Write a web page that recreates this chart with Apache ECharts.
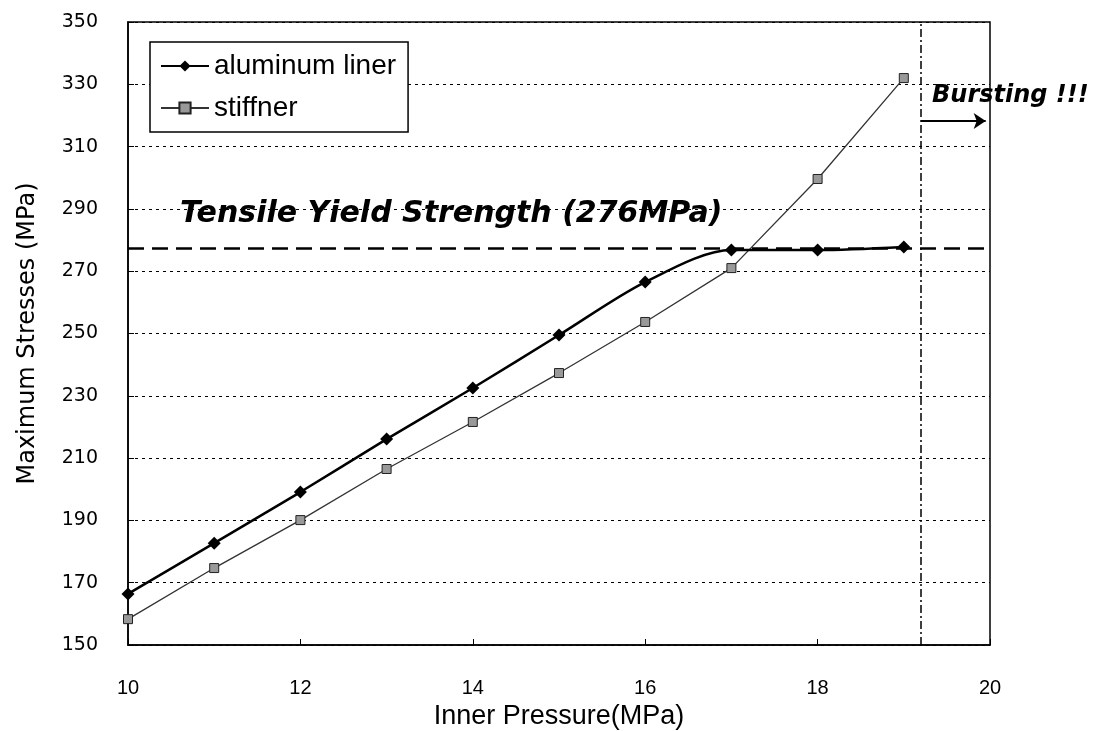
<!DOCTYPE html>
<html>
<head>
<meta charset="utf-8">
<script src="https://cdn.jsdelivr.net/npm/echarts@6/dist/echarts.min.js"></script>
<style>
html,body{margin:0;padding:0;background:#fff;}
#main{width:1099px;height:731px;}
</style>
</head>
<body>
<div id="main"></div>
<script>
// 数据
var pressure = [10, 11, 12, 13, 14, 15, 16, 17, 18, 19];
var linerStress = [166.4, 182.7, 199.1, 216.1, 232.5, 249.5, 266.5, 276.8, 276.8, 277.8];
var stiffStress = [158.3, 174.7, 190.1, 206.5, 221.6, 237.3, 253.7, 271.0, 299.6, 332.0];
var yieldLine = 277.5;
var burstAt = 19.2;

function pairs(xs, ys) {
	return xs.map(function (x, i) { return [x, ys[i]]; });
}

var font = 'Liberation Sans, Arial, sans-serif';
var wide = 'DejaVu Sans, Verdana, sans-serif';
var myChart = echarts.init(document.getElementById('main'));
var option = {
	animation: false,
	backgroundColor: '#fff',
	grid: { left: 128, right: 109, top: 22, bottom: 86, outerBoundsMode: 'none', containLabel: false, show: true, borderColor: '#000', borderWidth: 1.5 },
	xAxis: {
		type: 'value', min: 10, max: 20, interval: 2,
		name: 'Inner Pressure(MPa)', nameLocation: 'middle', nameGap: 56,
		nameTextStyle: { fontFamily: font, fontSize: 27, color: '#000' },
		axisLine: { lineStyle: { color: '#000', width: 1.5 } },
		axisTick: { inside: true, length: 6, lineStyle: { color: '#000' } },
		axisLabel: { fontFamily: font, fontSize: 20, color: '#000', margin: 33 },
		splitLine: { show: false }
	},
	yAxis: {
		type: 'value', min: 150, max: 350, interval: 20,
		name: 'Maximum Stresses (MPa)', nameLocation: 'middle', nameGap: 88,
		nameTextStyle: { fontFamily: wide, fontSize: 24, color: '#000' },
		axisLine: { lineStyle: { color: '#000', width: 1.5 } },
		axisTick: { inside: true, length: 6, lineStyle: { color: '#000' } },
		axisLabel: { fontFamily: wide, fontSize: 19, color: '#000', margin: 30 },
		splitLine: { show: true, lineStyle: { color: '#000', type: [3, 4], width: 1 } }
	},
	legend: {
		left: 150, top: 42, orient: 'vertical',
		padding: [10, 12, 10, 10], itemGap: 14,
		itemWidth: 48, itemHeight: 14,
		borderColor: '#000', borderWidth: 1.5, backgroundColor: '#fff',
		textStyle: { fontFamily: font, fontSize: 28, color: '#000' },
		data: ['aluminum liner', 'stiffner']
	},
	series: [
		{
			name: 'aluminum liner', type: 'line', smooth: 0.3,
			data: pairs(pressure, linerStress),
			symbol: 'diamond', symbolSize: 13,
			lineStyle: { color: '#000', width: 2.5 },
			itemStyle: { color: '#000' },
			z: 4,
			markLine: {
				silent: true, symbol: 'none', label: { show: false },
				data: [
					{ yAxis: yieldLine, lineStyle: { color: '#000', width: 2.5, type: [16, 8] } },
					{ xAxis: burstAt, lineStyle: { color: '#000', width: 1.5, type: [8, 3, 2, 3] } }
				]
			}
		},
		{
			name: 'stiffner', type: 'line',
			data: pairs(pressure, stiffStress),
			symbol: 'rect', symbolSize: 9,
			lineStyle: { color: '#333', width: 1.3 },
			itemStyle: { color: '#999', borderColor: '#222', borderWidth: 1 },
			z: 3,
			markLine: {
				silent: true, symbol: ['none', 'arrow'], symbolSize: 12, label: { show: false },
				lineStyle: { color: '#000', width: 2, type: 'solid' },
				data: [[{ coord: [burstAt, 318.2] }, { coord: [19.95, 318.2] }]]
			}
		}
	],
	graphic: [
		{ type: 'text', left: 180, top: 199, style: { text: 'Tensile Yield Strength (276MPa)', font: 'italic bold 30px DejaVu Sans, Verdana, sans-serif', fill: '#000' } },
		{ type: 'text', left: 932, top: 84, style: { text: 'Bursting !!!', font: 'italic bold 24px DejaVu Sans, Verdana, sans-serif', fill: '#000' } }
	]
};
myChart.setOption(option);
</script>
</body>
</html>
